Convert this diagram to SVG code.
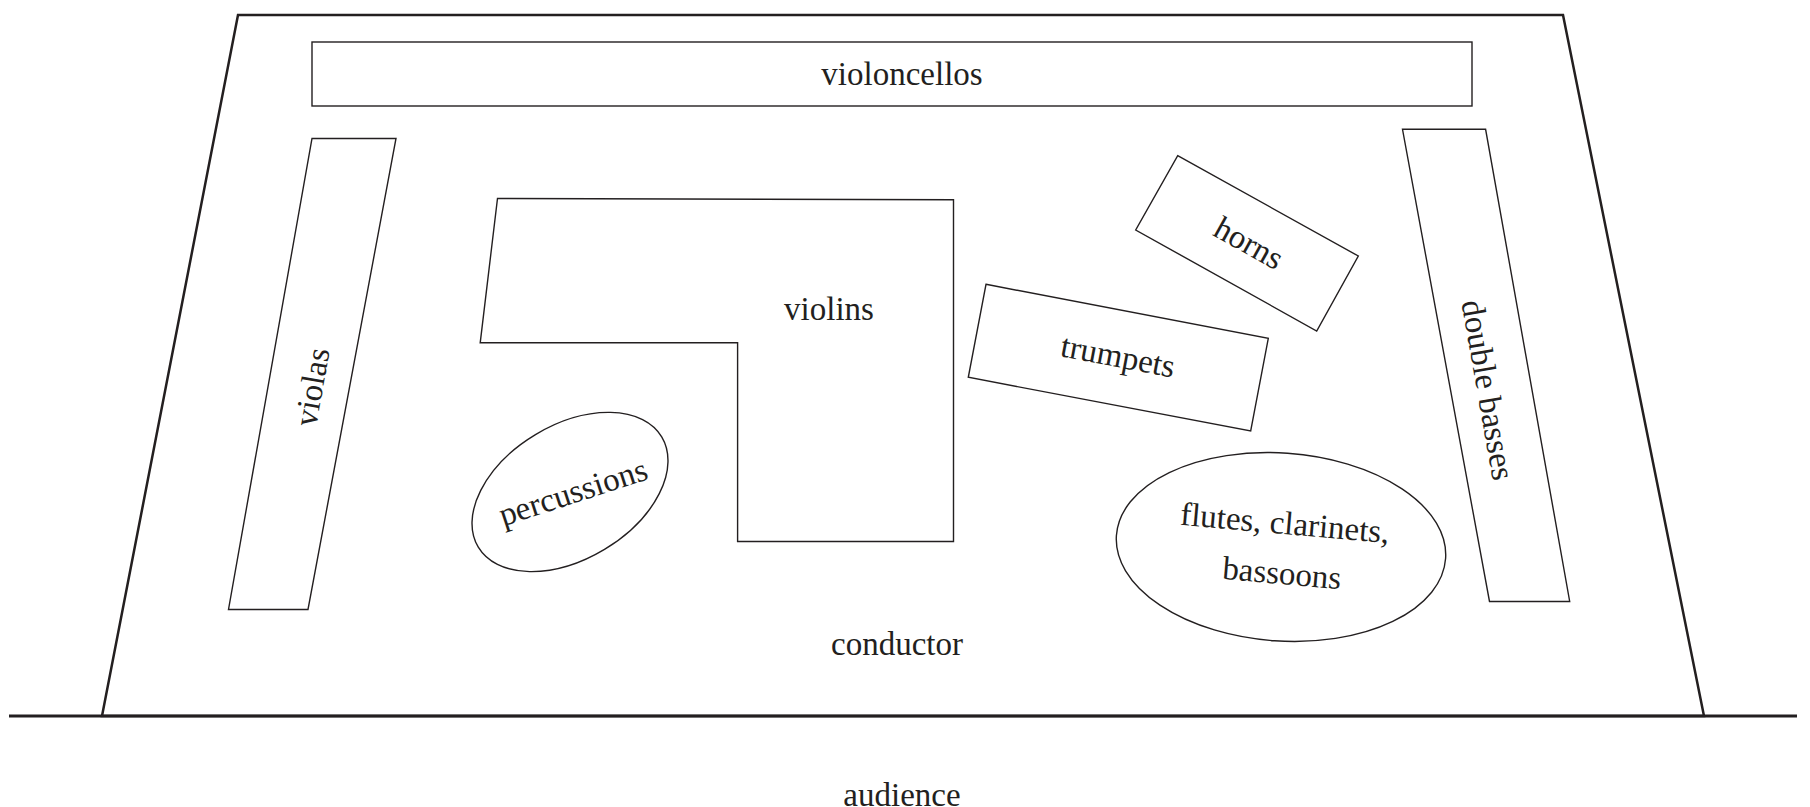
<svg xmlns="http://www.w3.org/2000/svg" width="1810" height="807" viewBox="0 0 1810 807">
<style>
.stage{fill:none;stroke:#231f20;stroke-width:2.5}
.shape{fill:#fff;stroke:#231f20;stroke-width:1.4}
.lbl{font-family:"Liberation Serif","Times New Roman",serif;font-size:33px;fill:#231f20;text-anchor:middle}
</style>
<rect width="1810" height="807" fill="#fff"/>
<g id="stage">
<polygon class="stage" points="238,15 1563,15 1704,716 102,716"/>
<line x1="9" y1="716" x2="1797" y2="716" stroke="#231f20" stroke-width="3"/>
</g>
<g id="violoncellos">
<rect class="shape" x="312" y="42" width="1160" height="64"/>
<text class="lbl" x="902" y="85">violoncellos</text>
</g>
<g id="violas">
<polygon class="shape" points="312,138.5 396,138.5 308,609.5 228.5,609.5"/>
<text class="lbl" x="312" y="387" dy="11" transform="rotate(-80 312 387)">violas</text>
</g>
<g id="violins">
<polygon class="shape" points="497.5,198.5 953.5,199.7 953.5,541.5 737.6,541.5 737.6,342.8 480.2,342.8"/>
<text class="lbl" x="829" y="320">violins</text>
</g>
<g id="percussions">
<ellipse class="shape" cx="570" cy="492" rx="107" ry="67" transform="rotate(-31 570 492)"/>
<text class="lbl" x="573" y="492" dy="11" transform="rotate(-18 573 492)">percussions</text>
</g>
<g id="horns">
<polygon class="shape" points="1177.7,155.7 1358.3,256 1316.7,331 1135.7,230"/>
<text class="lbl" x="1249" y="243" dy="11" transform="rotate(29 1249 243)">horns</text>
</g>
<g id="trumpets">
<polygon class="shape" points="986,284.3 1268.3,338.3 1250.7,431 968.3,377.3"/>
<text class="lbl" x="1118" y="356" dy="11" transform="rotate(10.8 1118 356)">trumpets</text>
</g>
<g id="double-basses">
<polygon class="shape" points="1402.5,129.3 1485.6,129.3 1569.7,601.5 1489.5,601.5"/>
<text class="lbl" x="1488" y="390" dy="11" transform="rotate(80 1488 390)">double basses</text>
</g>
<g id="winds">
<ellipse class="shape" cx="1281" cy="547" rx="165" ry="94" transform="rotate(4 1281 547)"/>
<text class="lbl" x="1284" y="534" transform="rotate(5 1284 534)">flutes, clarinets,</text>
<text class="lbl" x="1281" y="584" transform="rotate(5 1281 584)">bassoons</text>
</g>
<g id="labels">
<text class="lbl" x="897" y="655">conductor</text>
<text class="lbl" x="902" y="806">audience</text>
</g>
</svg>
